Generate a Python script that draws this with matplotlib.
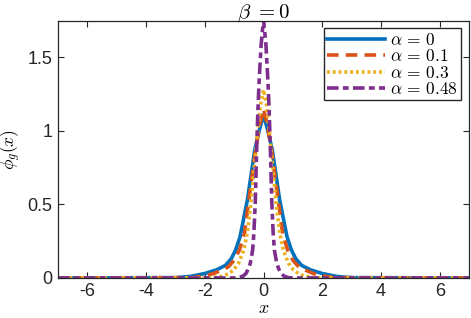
import numpy as np
import matplotlib
matplotlib.use("Agg")
import matplotlib.pyplot as plt

plt.rcParams['font.family'] = ['Liberation Sans', 'DejaVu Sans']
plt.rcParams['mathtext.fontset'] = 'cm'

# ======= DATA ====================================
x_a0 = [-7, -3.0, -2.5, -2.0, -1.6, -1.3, -1.1, -0.95, -0.8, -0.55, -0.3, -0.15, 0,
        0.15, 0.3, 0.55, 0.8, 0.95, 1.1, 1.3, 1.6, 2.0, 2.5, 3.0, 7]
y_a0 = [0, 0.002, 0.01, 0.03, 0.055, 0.085, 0.13, 0.19, 0.28, 0.53, 0.87, 1.0, 1.11,
        1.0, 0.87, 0.53, 0.28, 0.19, 0.13, 0.085, 0.055, 0.03, 0.01, 0.002, 0]

x_a1 = [-7, -2.4, -2.0, -1.7, -1.42, -1.2, -1.0, -0.82, -0.65, -0.52, -0.25, -0.12, 0,
        0.12, 0.25, 0.52, 0.65, 0.82, 1.0, 1.2, 1.42, 1.7, 2.0, 2.4, 7]
y_a1 = [0, 0.002, 0.015, 0.03, 0.054, 0.075, 0.12, 0.19, 0.3, 0.5, 0.9, 1.05, 1.15,
        1.05, 0.9, 0.5, 0.3, 0.19, 0.12, 0.075, 0.054, 0.03, 0.015, 0.002, 0]

x_a3 = [-7, -1.8, -1.4, -1.2, -1.02, -0.85, -0.67, -0.55, -0.45, -0.3, -0.2, -0.1, 0,
        0.1, 0.2, 0.3, 0.45, 0.55, 0.67, 0.85, 1.02, 1.2, 1.4, 1.8, 7]
y_a3 = [0, 0.001, 0.012, 0.028, 0.054, 0.1, 0.19, 0.31, 0.47, 0.78, 1.0, 1.18, 1.28,
        1.18, 1.0, 0.78, 0.47, 0.31, 0.19, 0.1, 0.054, 0.028, 0.012, 0.001, 0]

x_a48 = [-7, -1.0, -0.85, -0.7, -0.6, -0.52, -0.45, -0.37, -0.33, -0.28, -0.23, -0.19, -0.15, -0.08, 0,
         0.08, 0.15, 0.19, 0.23, 0.28, 0.33, 0.37, 0.45, 0.52, 0.6, 0.7, 0.85, 1.0, 7]
y_a48 = [0, 0, 0.002, 0.012, 0.03, 0.06, 0.1, 0.19, 0.3, 0.52, 0.9, 1.15, 1.34, 1.59, 1.76,
         1.59, 1.34, 1.15, 0.9, 0.52, 0.3, 0.19, 0.1, 0.06, 0.03, 0.012, 0.002, 0, 0]

labels = [r'$\alpha\,=\,0$', r'$\alpha\,=\,0.1$', r'$\alpha\,=\,0.3$', r'$\alpha\,=\,0.48$']

# ======= PLOT ===========
fig = plt.figure(figsize=(4.71, 3.18), dpi=100)
ax = fig.add_axes([0.123, 0.126, 0.873, 0.809])

ax.plot(x_a0, y_a0, color='#0072BD', lw=2.6, label=labels[0])
ax.plot(x_a1, y_a1, color='#D95319', lw=2.6, dashes=(3.2, 2.0), label=labels[1])
ax.plot(x_a3, y_a3, color='#EDB120', lw=2.6, dashes=(0.8, 0.8), label=labels[2])
ax.plot(x_a48, y_a48, color='#7E2F8E', lw=2.6, dashes=(3.2, 1.2, 1.6, 1.2), label=labels[3])

ax.set_xlim(-7, 7)
ax.set_ylim(0, 1.75)
ax.set_xticks([-6, -4, -2, 0, 2, 4, 6])
ax.set_xticklabels(['-6', '-4', '-2', '0', '2', '4', '6'])
ax.set_yticks([0, 0.5, 1, 1.5])
ax.set_yticklabels(['0', '0.5', '1', '1.5'])
ax.tick_params(direction='in', top=True, right=True, length=4, width=0.8,
               labelsize=13, colors='#262626', pad=4)
for s in ax.spines.values():
    s.set_linewidth(0.9)
    s.set_color('#262626')

ax.set_xlabel(r'$x$', fontsize=13, labelpad=0)
ax.set_ylabel(r'$\phi_g(x)$', fontsize=12.5, labelpad=3)
ax.set_title(r'$\beta\ {=}0$', fontsize=15, pad=2)

leg = ax.legend(loc='upper right', handlelength=3.3, fontsize=12.5, fancybox=False,
                borderpad=0.2, labelspacing=0.02, handletextpad=0.3,
                borderaxespad=0.45, framealpha=1)
leg.get_frame().set_edgecolor('#262626')
leg.get_frame().set_linewidth(1.0)

fig.savefig('out.png', dpi=100)
